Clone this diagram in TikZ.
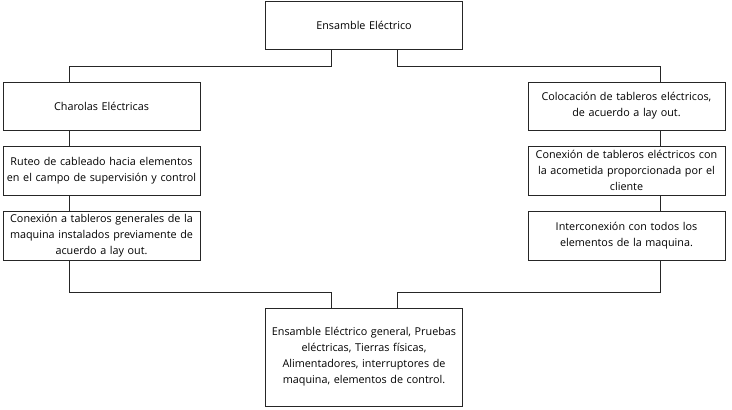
\documentclass[tikz,border=0pt]{standalone}
\usepackage{fontspec}
\setmainfont{Open Sans}
\usepackage{tikz}
\usetikzlibrary{positioning,calc}

\begin{document}
\begin{tikzpicture}[x=1pt,y=-1pt,
		caja/.style={draw=black!85,line width=0.8pt,minimum width=197pt,text width=196pt,
			align=center,inner sep=0.5pt,font=\fontsize{10.8}{16}\selectfont},
		linea/.style={draw=black!85,line width=0.8pt}]
		\useasboundingbox (0,0) rectangle (732,410);
		% cajas
		\node[caja,minimum height=48pt] (ensamble) at (364,25) {Ensamble Eléctrico};
		\node[caja,minimum height=48pt] (charolas) at (101.5,106) {Charolas Eléctricas};
		\node[caja,minimum height=49pt] (ruteo) at (101.5,170.5) {Ruteo de cableado hacia elementos\\en el campo de supervisión y control};
		\node[caja,minimum height=49pt] (conexgen) at (101.5,235.5) {Conexión a tableros generales de la\\maquina instalados previamente de\\acuerdo a lay out.};
		\node[caja,minimum height=48pt] (colocacion) at (626.5,106) {Colocación de tableros eléctricos,\\de acuerdo a lay out.};
		\node[caja,minimum height=49pt] (acometida) at (626.5,170.5) {Conexión de tableros eléctricos con\\la acometida proporcionada por el\\cliente};
		\node[caja,minimum height=49pt] (interconex) at (626.5,235.5) {Interconexión con todos los\\elementos de la maquina.};
		\node[caja,minimum height=98pt] (general) at (364,357) {Ensamble Eléctrico general, Pruebas\\eléctricas, Tierras físicas,\\Alimentadores, interruptores de\\maquina, elementos de control.};
		% lineas
		\draw[linea] ([xshift=-33pt]ensamble.south) -- ++(0,17) -| ([xshift=-32.5pt]charolas.north);
		\draw[linea] ([xshift=33pt]ensamble.south) -- ++(0,17) -| ([xshift=33.5pt]colocacion.north);
		\draw[linea] ([xshift=-32.5pt]charolas.south) -- ([xshift=-32.5pt]ruteo.north);
		\draw[linea] ([xshift=-32.5pt]ruteo.south) -- ([xshift=-32.5pt]conexgen.north);
		\draw[linea] ([xshift=33.5pt]colocacion.south) -- ([xshift=33.5pt]acometida.north);
		\draw[linea] ([xshift=33.5pt]acometida.south) -- ([xshift=33.5pt]interconex.north);
		\draw[linea] ([xshift=-32.5pt]conexgen.south) -- ++(0,32) -| ([xshift=-33pt]general.north);
		\draw[linea] ([xshift=33.5pt]interconex.south) -- ++(0,32) -| ([xshift=33pt]general.north);
\end{tikzpicture}
\end{document}
